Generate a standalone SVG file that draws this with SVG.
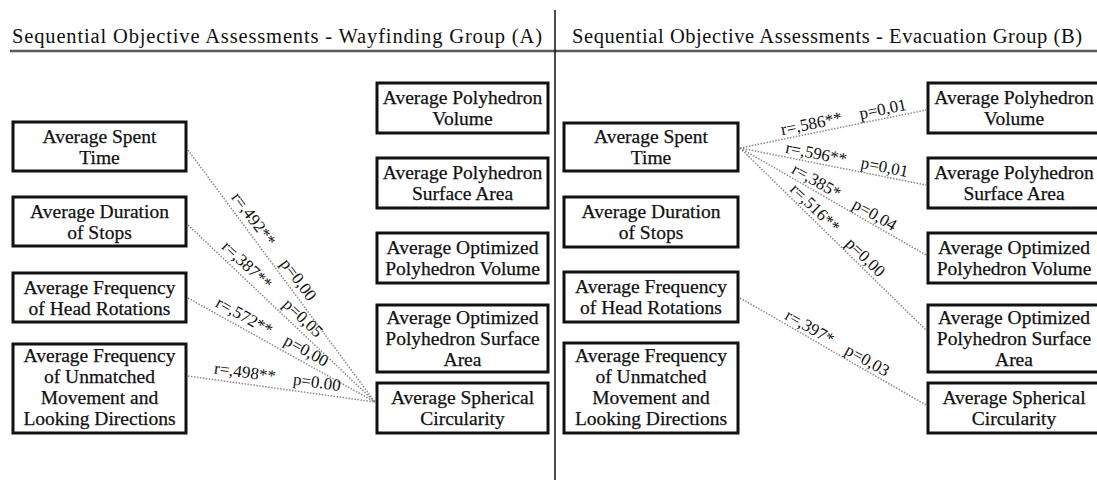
<svg xmlns="http://www.w3.org/2000/svg" width="1097" height="480" viewBox="0 0 1097 480">
<style>
text{font-family:"Liberation Serif","Times New Roman",serif;fill:#111}
.title{font-size:20.5px}
.box rect{fill:#fff;stroke:#111;stroke-width:3}
.box text{font-size:19.5px;text-anchor:middle;stroke:#111;stroke-width:0.25}
.conn line{stroke:#8a8a8a;stroke-width:1.5;stroke-dasharray:1.5 1.5;fill:none}
.lbl{font-size:17px;text-anchor:middle}
.rule{stroke:#5a5a5a;stroke-width:2.5}
</style>
<rect width="1097" height="480" fill="#fff"/>
<g id="headers">
<text class="title" x="12" y="43" textLength="530" lengthAdjust="spacing">Sequential Objective Assessments - Wayfinding Group (A)</text>
<text class="title" x="572" y="43" textLength="510" lengthAdjust="spacing">Sequential Objective Assessments - Evacuation Group (B)</text>
<line class="rule" x1="10" y1="51" x2="1097" y2="51"/>
<line x1="555" y1="10" x2="555" y2="480" stroke="#111" stroke-width="1.5"/>
</g>
<g id="connectors" class="conn">
<line x1="188" y1="150" x2="375" y2="402"/>
<line x1="188" y1="225" x2="375" y2="402"/>
<line x1="188" y1="298" x2="375" y2="402"/>
<line x1="188" y1="376" x2="375" y2="402"/>
<line x1="740" y1="148" x2="926" y2="110"/>
<line x1="740" y1="148" x2="926" y2="185"/>
<line x1="740" y1="148" x2="926" y2="255"/>
<line x1="740" y1="148" x2="926" y2="330"/>
<line x1="740" y1="298" x2="926" y2="405"/>
<text class="lbl" transform="translate(244.3,225.9) rotate(53.4)" y="-6">r=,492**</text>
<text class="lbl" transform="translate(289.3,286.5) rotate(53.4)" y="-6">p=0,00</text>
<text class="lbl" transform="translate(239.1,273.4) rotate(43.4)" y="-6">r=,387**</text>
<text class="lbl" transform="translate(295,326.3) rotate(43.4)" y="-6">p=0,05</text>
<text class="lbl" transform="translate(238.7,326.2) rotate(29.1)" y="-6">r=,572**</text>
<text class="lbl" transform="translate(300.7,360.7) rotate(29.1)" y="-6">p=0,00</text>
<text class="lbl" transform="translate(243.4,383.7) rotate(7.9)" y="-6">r=,498**</text>
<text class="lbl" transform="translate(315.3,393.7) rotate(7.9)" y="-6">p=0.00</text>
<text class="lbl" transform="translate(813.3,133) rotate(-11.5)" y="-4">r=,586**</text>
<text class="lbl" transform="translate(884.8,118.4) rotate(-11.5)" y="-4">p=0,01</text>
<text class="lbl" transform="translate(814.4,162.8) rotate(11.25)" y="-4">r=,596**</text>
<text class="lbl" transform="translate(882.8,176.4) rotate(11.25)" y="-4">p=0,01</text>
<text class="lbl" transform="translate(811.7,189.3) rotate(29.9)" y="-4">r=,385*</text>
<text class="lbl" transform="translate(870,222.9) rotate(29.9)" y="-4">p=0,04</text>
<text class="lbl" transform="translate(808.4,214.8) rotate(44.4)" y="-4">r=,516**</text>
<text class="lbl" transform="translate(858.7,264) rotate(44.4)" y="-4">p=0,00</text>
<text class="lbl" transform="translate(805,335.4) rotate(29.9)" y="-4">r=,397*</text>
<text class="lbl" transform="translate(862.6,368.6) rotate(29.9)" y="-4">p=0,03</text>
</g>
<g id="a-spent" class="box"><rect x="13" y="122" width="173" height="49"/><text x="99.5" y="143">Average Spent</text><text x="99.5" y="164">Time</text></g>
<g id="a-duration" class="box"><rect x="13" y="197" width="173" height="49"/><text x="99.5" y="218">Average Duration</text><text x="99.5" y="239">of Stops</text></g>
<g id="a-head" class="box"><rect x="13" y="273" width="173" height="49"/><text x="99.5" y="294">Average Frequency</text><text x="99.5" y="315">of Head Rotations</text></g>
<g id="a-unmatched" class="box"><rect x="13" y="344" width="173" height="89"/><text x="99.5" y="361.5">Average Frequency</text><text x="99.5" y="382.5">of Unmatched</text><text x="99.5" y="403.5">Movement and</text><text x="99.5" y="424.5">Looking Directions</text></g>
<g id="a-volume" class="box"><rect x="377" y="83" width="171" height="50"/><text x="462.5" y="104">Average Polyhedron</text><text x="462.5" y="125">Volume</text></g>
<g id="a-surface" class="box"><rect x="377" y="158" width="171" height="50"/><text x="462.5" y="179">Average Polyhedron</text><text x="462.5" y="200">Surface Area</text></g>
<g id="a-optvolume" class="box"><rect x="377" y="233" width="171" height="50"/><text x="462.5" y="254">Average Optimized</text><text x="462.5" y="275">Polyhedron Volume</text></g>
<g id="a-optsurface" class="box"><rect x="377" y="305" width="171" height="67"/><text x="462.5" y="324">Average Optimized</text><text x="462.5" y="345">Polyhedron Surface</text><text x="462.5" y="366">Area</text></g>
<g id="a-spherical" class="box"><rect x="377" y="383" width="171" height="50"/><text x="462.5" y="404">Average Spherical</text><text x="462.5" y="425">Circularity</text></g>
<g id="b-spent" class="box"><rect x="564" y="123" width="174" height="48"/><text x="651" y="143">Average Spent</text><text x="651" y="164">Time</text></g>
<g id="b-duration" class="box"><rect x="564" y="197" width="174" height="50"/><text x="651" y="218">Average Duration</text><text x="651" y="239">of Stops</text></g>
<g id="b-head" class="box"><rect x="564" y="272" width="174" height="50"/><text x="651" y="293">Average Frequency</text><text x="651" y="314">of Head Rotations</text></g>
<g id="b-unmatched" class="box"><rect x="564" y="343" width="174" height="90"/><text x="651" y="361.5">Average Frequency</text><text x="651" y="382.5">of Unmatched</text><text x="651" y="403.5">Movement and</text><text x="651" y="424.5">Looking Directions</text></g>
<g id="b-volume" class="box"><rect x="928" y="83" width="172" height="50"/><text x="1014" y="104">Average Polyhedron</text><text x="1014" y="125">Volume</text></g>
<g id="b-surface" class="box"><rect x="928" y="158" width="172" height="50"/><text x="1014" y="179">Average Polyhedron</text><text x="1014" y="200">Surface Area</text></g>
<g id="b-optvolume" class="box"><rect x="928" y="233" width="172" height="50"/><text x="1014" y="254">Average Optimized</text><text x="1014" y="275">Polyhedron Volume</text></g>
<g id="b-optsurface" class="box"><rect x="928" y="305" width="172" height="67"/><text x="1014" y="324">Average Optimized</text><text x="1014" y="345">Polyhedron Surface</text><text x="1014" y="366">Area</text></g>
<g id="b-spherical" class="box"><rect x="928" y="383" width="172" height="50"/><text x="1014" y="404">Average Spherical</text><text x="1014" y="425">Circularity</text></g>
</svg>
